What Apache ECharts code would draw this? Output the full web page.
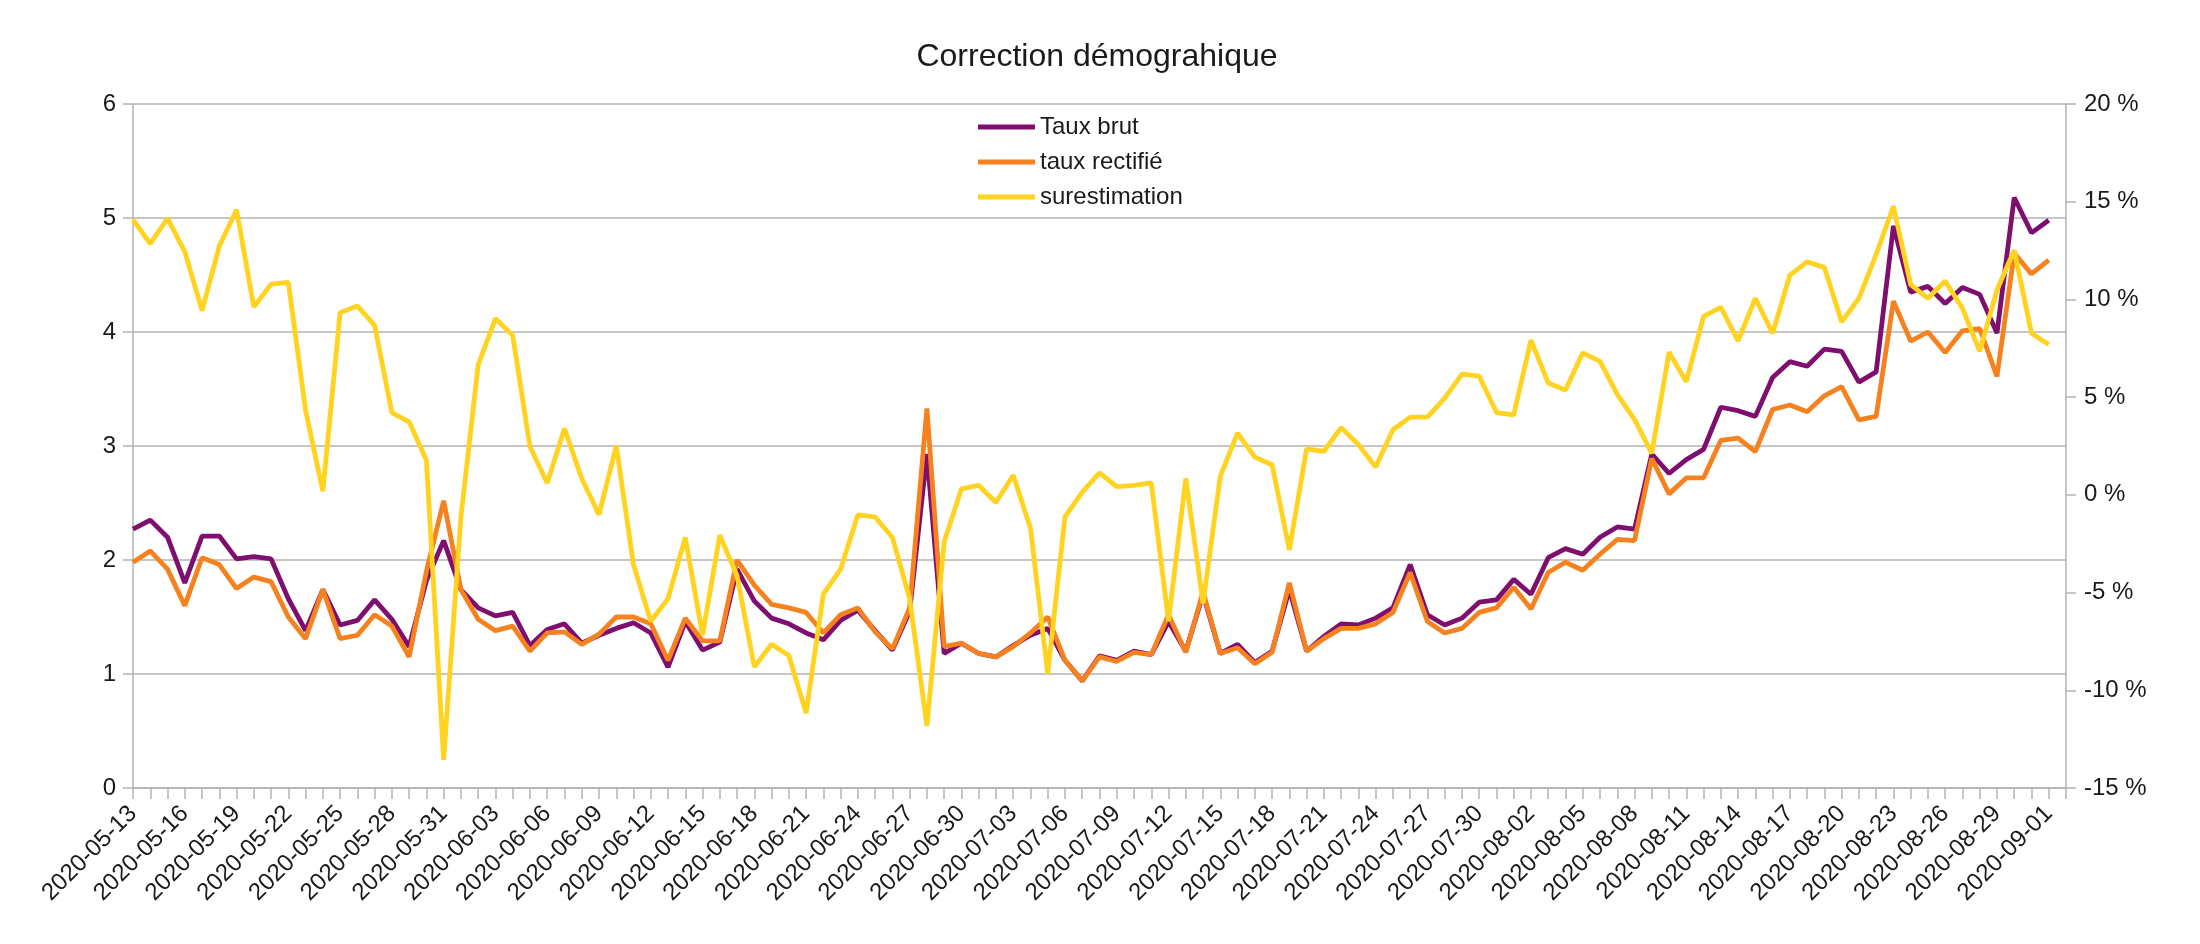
<!DOCTYPE html>
<html>
<head>
<meta charset="utf-8">
<script src="https://cdn.jsdelivr.net/npm/echarts@6/dist/echarts.min.js"></script>
<style>
html,body{margin:0;padding:0;background:#fff;}
#chart{width:2200px;height:944px;}
</style>
</head>
<body>
<div id="chart"></div>
<script>
var dates = [
'2020-05-13','2020-05-14','2020-05-15','2020-05-16','2020-05-17','2020-05-18','2020-05-19','2020-05-20','2020-05-21','2020-05-22',
'2020-05-23','2020-05-24','2020-05-25','2020-05-26','2020-05-27','2020-05-28','2020-05-29','2020-05-30','2020-05-31','2020-06-01',
'2020-06-02','2020-06-03','2020-06-04','2020-06-05','2020-06-06','2020-06-07','2020-06-08','2020-06-09','2020-06-10','2020-06-11',
'2020-06-12','2020-06-13','2020-06-14','2020-06-15','2020-06-16','2020-06-17','2020-06-18','2020-06-19','2020-06-20','2020-06-21',
'2020-06-22','2020-06-23','2020-06-24','2020-06-25','2020-06-26','2020-06-27','2020-06-28','2020-06-29','2020-06-30','2020-07-01',
'2020-07-02','2020-07-03','2020-07-04','2020-07-05','2020-07-06','2020-07-07','2020-07-08','2020-07-09','2020-07-10','2020-07-11',
'2020-07-12','2020-07-13','2020-07-14','2020-07-15','2020-07-16','2020-07-17','2020-07-18','2020-07-19','2020-07-20','2020-07-21',
'2020-07-22','2020-07-23','2020-07-24','2020-07-25','2020-07-26','2020-07-27','2020-07-28','2020-07-29','2020-07-30','2020-07-31',
'2020-08-01','2020-08-02','2020-08-03','2020-08-04','2020-08-05','2020-08-06','2020-08-07','2020-08-08','2020-08-09','2020-08-10',
'2020-08-11','2020-08-12','2020-08-13','2020-08-14','2020-08-15','2020-08-16','2020-08-17','2020-08-18','2020-08-19','2020-08-20',
'2020-08-21','2020-08-22','2020-08-23','2020-08-24','2020-08-25','2020-08-26','2020-08-27','2020-08-28','2020-08-29','2020-08-30',
'2020-08-31','2020-09-01'
];

var tauxBrut = [
2.27,2.35,2.20,1.80,2.21,2.21,2.01,2.03,2.01,1.66,
1.38,1.74,1.43,1.47,1.65,1.48,1.24,1.82,2.17,1.74,
1.58,1.51,1.54,1.25,1.39,1.44,1.27,1.34,1.40,1.45,
1.36,1.06,1.46,1.21,1.28,1.92,1.64,1.49,1.44,1.36,
1.30,1.47,1.56,1.38,1.21,1.55,2.93,1.18,1.27,1.18,
1.15,1.25,1.34,1.40,1.12,0.94,1.16,1.12,1.20,1.17,
1.46,1.20,1.70,1.18,1.26,1.10,1.20,1.74,1.20,1.33,
1.44,1.43,1.49,1.58,1.96,1.52,1.43,1.49,1.63,1.65,
1.83,1.70,2.02,2.10,2.05,2.20,2.29,2.27,2.93,2.76,
2.88,2.97,3.34,3.31,3.26,3.60,3.74,3.70,3.85,3.83,
3.56,3.65,4.93,4.35,4.40,4.25,4.39,4.33,3.99,5.18,
4.87,4.98
];

var tauxRectifie = [
1.98,2.08,1.92,1.60,2.02,1.96,1.75,1.85,1.81,1.50,
1.31,1.74,1.31,1.34,1.52,1.42,1.15,1.90,2.52,1.74,
1.48,1.38,1.42,1.20,1.36,1.37,1.26,1.35,1.50,1.50,
1.44,1.12,1.49,1.29,1.29,2.00,1.78,1.61,1.58,1.54,
1.36,1.52,1.58,1.37,1.22,1.58,3.33,1.24,1.27,1.18,
1.15,1.24,1.36,1.50,1.12,0.94,1.15,1.11,1.19,1.17,
1.52,1.19,1.72,1.18,1.23,1.09,1.19,1.80,1.20,1.31,
1.40,1.40,1.44,1.54,1.89,1.46,1.36,1.40,1.54,1.58,
1.76,1.57,1.89,1.98,1.91,2.05,2.18,2.17,2.89,2.58,
2.72,2.72,3.05,3.07,2.95,3.32,3.36,3.30,3.44,3.52,
3.23,3.26,4.27,3.92,4.00,3.82,4.01,4.03,3.61,4.69,
4.51,4.63
];

var surestimation = [
14.08,12.85,14.15,12.45,9.43,12.73,14.59,9.62,10.78,10.87,
4.32,0.19,9.32,9.67,8.67,4.21,3.74,1.77,-13.56,-1.13,
6.65,9.02,8.16,2.47,0.61,3.40,0.84,-1.02,2.51,-3.57,
-6.47,-5.31,-2.18,-7.17,-2.06,-4.15,-8.80,-7.64,-8.22,-11.17,
-5.08,-3.80,-1.02,-1.13,-2.18,-5.31,-11.82,-2.41,0.31,0.49,
-0.39,1.00,-1.71,-9.15,-1.13,0.14,1.12,0.42,0.49,0.61,
-6.47,0.84,-5.55,0.96,3.16,1.93,1.54,-2.81,2.35,2.23,
3.44,2.58,1.42,3.33,3.98,3.98,4.95,6.18,6.07,4.21,
4.09,7.92,5.72,5.37,7.27,6.83,5.14,3.86,2.12,7.30,
5.79,9.13,9.60,7.88,10.06,8.27,11.24,11.92,11.64,8.85,
10.06,12.30,14.77,10.76,10.06,10.94,9.55,7.34,10.48,12.52,
8.27,7.69
];

var leftTicks = {min: 0, max: 6, interval: 1};
var rightTicks = {min: -15, max: 20, interval: 5};
var seriesNames = ['Taux brut', 'taux rectifié', 'surestimation'];
var titleText = 'Correction démograhique';

var FONT = 'Liberation Sans';
var GRID_COLOR = '#b3b3b3';
var TEXT_COLOR = '#1a1a1a';

var chart = echarts.init(document.getElementById('chart'), null, {renderer: 'canvas'});
chart.setOption({
  backgroundColor: '#ffffff',
  animation: false,
  color: ['#7e0f6f', '#f5821e', '#ffd320'],
  title: {
    text: titleText,
    left: 1092,
    top: 36,
    textAlign: 'center',
    textStyle: {fontFamily: FONT, fontSize: 32, fontWeight: 'normal', color: TEXT_COLOR}
  },
  legend: {
    orient: 'vertical',
    left: 973,
    top: 108,
    itemWidth: 57,
    itemHeight: 5,
    itemGap: 7,
    itemTextGap: 8,
    icon: 'rect',
    data: seriesNames,
    textStyle: {fontFamily: FONT, fontSize: 24, color: TEXT_COLOR, lineHeight: 28}
  },
  grid: {left: 133, right: 134, top: 104, bottom: 156, containLabel: false},
  xAxis: {
    type: 'category',
    boundaryGap: false,
    data: dates.concat(['']),
    axisLine: {show: true, lineStyle: {color: GRID_COLOR, width: 1.5}},
    axisTick: {show: true, interval: 0, length: 11, lineStyle: {color: GRID_COLOR, width: 1.5}},
    axisLabel: {
      interval: 2,
      rotate: 45,
      margin: 22,
      fontFamily: FONT,
      fontSize: 24,
      color: TEXT_COLOR
    },
    splitLine: {show: false}
  },
  yAxis: [
    {
      type: 'value',
      min: leftTicks.min,
      max: leftTicks.max,
      interval: leftTicks.interval,
      position: 'left',
      axisLine: {show: true, lineStyle: {color: GRID_COLOR, width: 1.5}},
      axisTick: {show: true, length: 10, lineStyle: {color: GRID_COLOR, width: 1.5}},
      axisLabel: {margin: 17, fontFamily: FONT, fontSize: 24, color: TEXT_COLOR},
      splitLine: {show: true, lineStyle: {color: GRID_COLOR, width: 1.5}}
    },
    {
      type: 'value',
      min: rightTicks.min,
      max: rightTicks.max,
      interval: rightTicks.interval,
      position: 'right',
      axisLine: {show: true, lineStyle: {color: GRID_COLOR, width: 1.5}},
      axisTick: {show: true, length: 10, lineStyle: {color: GRID_COLOR, width: 1.5}},
      axisLabel: {margin: 18, fontFamily: FONT, fontSize: 24, color: TEXT_COLOR, formatter: '{value} %'},
      splitLine: {show: false}
    }
  ],
  series: [
    {
      name: seriesNames[0], type: 'line', yAxisIndex: 0, data: tauxBrut,
      showSymbol: false, symbol: 'none', lineStyle: {width: 4.8}, z: 2
    },
    {
      name: seriesNames[1], type: 'line', yAxisIndex: 0, data: tauxRectifie,
      showSymbol: false, symbol: 'none', lineStyle: {width: 4.8}, z: 3
    },
    {
      name: seriesNames[2], type: 'line', yAxisIndex: 1, data: surestimation,
      showSymbol: false, symbol: 'none', lineStyle: {width: 4.8}, z: 4
    }
  ]
});
</script>
</body>
</html>
